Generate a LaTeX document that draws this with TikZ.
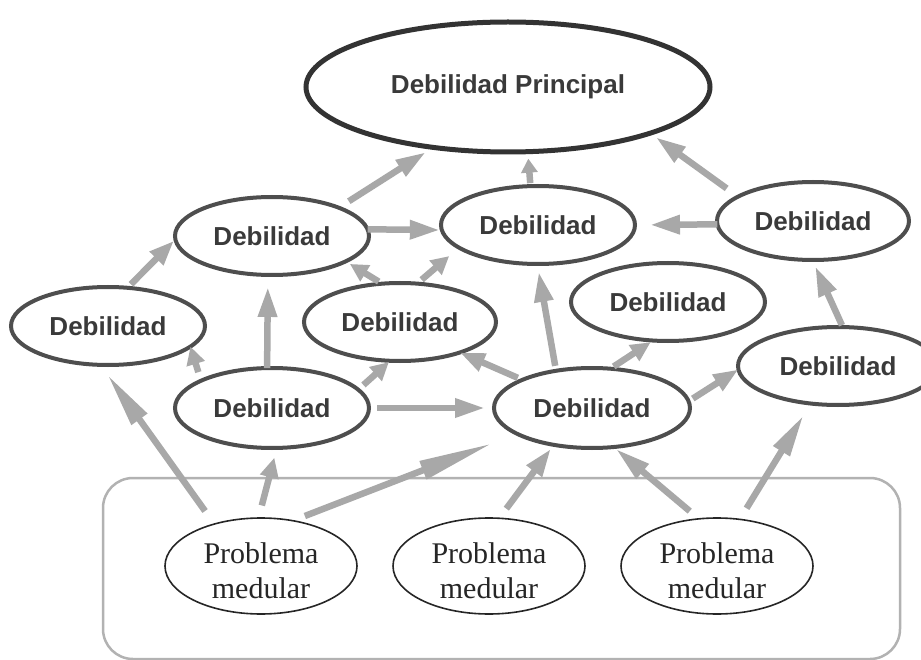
\documentclass[tikz,border=0pt]{standalone}
\usepackage{fontspec}
\setmainfont{Liberation Serif}
\newfontfamily\headfont{Liberation Sans}
\usetikzlibrary{arrows.meta,shapes.geometric}

\definecolor{arrowgray}{RGB}{168,168,168}
\definecolor{rimgray}{RGB}{78,78,78}
\definecolor{boxgray}{RGB}{178,178,178}
\definecolor{labelgray}{RGB}{58,58,58}

\begin{document}
\begin{tikzpicture}[x=1pt,y=-1pt,
  weak/.style={ellipse, draw=rimgray, fill=white, line width=4pt, inner sep=0pt, outer sep=0pt,
    minimum width=194pt, minimum height=78pt,
    font=\headfont\bfseries\fontsize{26}{30}\selectfont, text=labelgray},
  chief/.style={weak, draw=black!80, line width=5pt, minimum width=404pt, minimum height=130pt},
  core/.style={ellipse, draw=black!85, fill=white, line width=1.6pt, inner sep=0pt, outer sep=0pt,
    minimum width=192pt, minimum height=96pt, align=center,
    font=\fontsize{30}{35}\selectfont, text=black!85},
  pool/.style={rectangle, draw=boxgray, line width=2.5pt, rounded corners=30pt, inner sep=0pt},
  link/.style={draw=arrowgray, line width=6.5pt, -{Triangle[length=#1,width=18pt]}},
  link/.default=30pt]

\useasboundingbox (0,0) rectangle (921,660);

% frame around the core problems
\node[pool, minimum width=797pt, minimum height=181pt] (frame) at (501.5,568.5) {};

% weaknesses
\node[chief] (m) at (508,87) {Debilidad Principal};
\node[weak] (d1) at (272,236) {Debilidad};
\node[weak] (d2) at (538,225) {Debilidad};
\node[weak, minimum width=192pt] (d3) at (813,221) {Debilidad};
\node[weak] (d4) at (108,326) {Debilidad};
\node[weak, minimum width=192pt] (d5) at (400,322) {Debilidad};
\node[weak] (d6) at (668,302) {Debilidad};
\node[weak, minimum height=80pt] (d7) at (272,408) {Debilidad};
\node[weak, minimum width=196pt, minimum height=80pt] (d8) at (592,408) {Debilidad};
\node[weak, minimum width=200pt] (d9) at (838,366) {Debilidad};

% core problems
\node[core] (p1) at (261,566) {\rule{0pt}{30pt}Problema\\medular};
\node[core] (p2) at (489,566) {\rule{0pt}{30pt}Problema\\medular};
\node[core] (p3) at (717,566) {\rule{0pt}{30pt}Problema\\medular};

% links between weaknesses
\draw[link, shorten <=12pt, shorten >=9pt] (d1.23) -- (m.219);
\draw[link, -{Triangle[length=14pt,width=16pt]}, shorten <=3pt, shorten >=7pt] (d2.101) -- (m.287);
\draw[link, shorten <=14pt, shorten >=7pt] (d3.162) -- (m.342);
\draw[link, shorten >=2pt] (d1.4) -- (d2.183);
\draw[link, shorten >=15pt] (d3.182) -- (d2.0);
\draw[link=18pt, shorten <=4pt, shorten >=5pt] (d5.115) -- (d1.341);
\draw[link=18pt, shorten <=6pt, shorten >=13pt] (d5.66) -- (d2.196);
\draw[link=25pt, shorten <=5pt, shorten >=2pt] (d4.63) -- (d1.182);
\draw[link=18pt, shorten <=9pt] (d7.159) -- (d4.346);
\draw[link, shorten >=12pt] (d7.97) -- (d1.264);
\draw[link=18pt, shorten <=7pt, shorten >=2pt] (d7.12) -- (d5.256);
\draw[link, shorten <=8pt, shorten >=9pt] (d7.0) -- (d8.180);
\draw[link=25pt, shorten <=5pt] (d8.158) -- (d5.333);
\draw[link, shorten <=5pt, shorten >=8pt] (d8.134) -- (d2.269);
\draw[link=20pt, shorten <=4pt, shorten >=3pt] (d8.65) -- (d6.249);
\draw[link=25pt, shorten <=5pt] (d8.4) -- (d9.182);
\draw[link, shorten <=2pt, shorten >=7pt] (d9.83) -- (d3.269);

% links from the core problems
\draw[link=55pt, shorten <=16pt, shorten >=12pt] (p1.138) -- (d4.259);
\draw[link=20pt, shorten <=13pt, shorten >=10pt] (p1.93) -- (d7.277);
\draw[link=75pt, shorten <=13pt, shorten >=26pt] (p1.55) -- (d8.199);
\draw[link=28pt, shorten <=12pt, shorten >=5pt] (p2.78) -- (d8.224);
\draw[link=35pt, shorten <=12pt, shorten >=3pt] (p3.111) -- (d8.299);
\draw[link=42pt, shorten <=13pt, shorten >=14pt] (p3.64) -- (d9.234);
\end{tikzpicture}
\end{document}
